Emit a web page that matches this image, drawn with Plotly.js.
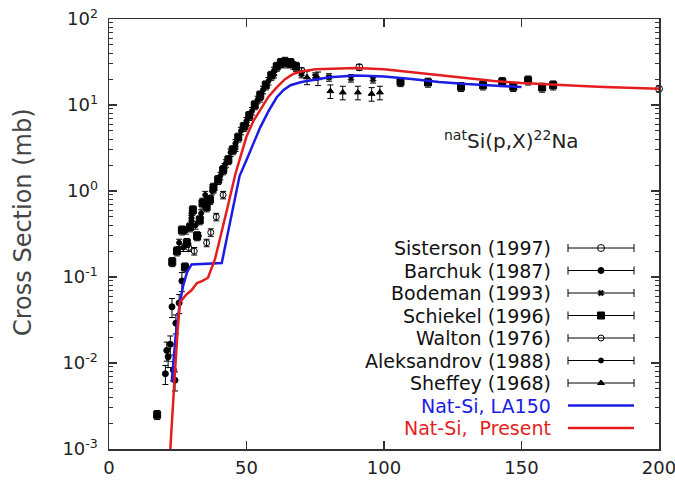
<!DOCTYPE html>
<html><head><meta charset="utf-8">
<script src="https://cdn.plot.ly/plotly-3.0.1.min.js"></script>
<style>html,body{margin:0;padding:0;background:#fff;}#chart{width:675px;height:482px;}</style>
</head><body><div id="chart"></div>
<script>
// ---------- data (energy MeV, cross section mb) ----------
const sistersonE = [61, 70, 91, 200];
const sistersonY = [28, 25, 27.5, 15.4];

const barchukE = [20.5, 21, 21.5, 22.3, 22.9, 23.4, 24, 24.3, 25.5, 26.5];
const barchukY = [0.0075, 0.014, 0.0118, 0.0165, 0.045, 0.0083, 0.0063, 0.029, 0.05, 0.09];

const bodemanE = [30, 34, 38, 42, 46, 50, 55, 60, 65, 70, 75, 80, 88, 96];
const bodemanY = [0.5, 0.75, 1.05, 1.9, 3.2, 6.0, 12, 23, 30, 23, 21.5, 21, 20.5, 20];

const schiekelE = [17.5, 23, 24.7, 26.5, 27.6, 28.3, 29.5, 30.5, 32, 33, 34, 35.5, 36.7, 38, 39.7, 41.5, 43.4, 45, 47, 49, 51, 53, 55, 57, 59, 61, 62.5, 64, 66, 68, 106, 116, 128, 136, 143, 147, 152.4, 157.5, 161.5];
const schiekelY = [0.0025, 0.15, 0.2, 0.35, 0.13, 0.25, 0.38, 0.6, 0.3, 0.46, 0.72, 0.65, 0.79, 1.1, 1.35, 1.75, 2.3, 3.0, 4.2, 5.6, 7.5, 10, 13, 17, 22, 28, 31, 32, 31, 28, 18.6, 18.3, 16.3, 17, 18.6, 16.3, 19.4, 16, 17];

const waltonE = [29, 31, 32.5, 35.5, 37, 39, 41.5];
const waltonY = [0.22, 0.2, 0.3, 0.25, 0.33, 0.5, 0.9];

const aleksandrovE = [25.5, 27, 28, 30, 31.5, 33.5, 35, 37.5, 40.5, 42.5, 44.2, 46, 48, 50, 52, 54, 56, 58, 60, 63, 67];
const aleksandrovY = [0.25, 0.22, 0.35, 0.45, 0.4, 0.55, 0.9, 1.0, 1.5, 2.1, 2.8, 3.6, 5.0, 6.5, 8.5, 11.5, 15, 19, 25, 30, 29];

const sheffeyE = [72, 76, 80.5, 85, 90.5, 95.5, 98.5];
const sheffeyY = [21, 20.5, 14.5, 14, 14, 13.5, 14];

const la150E = [22.8, 23.5, 24.2, 25, 25.8, 27, 28.4, 30, 35, 41, 43, 45, 47.5, 50, 52.5, 55, 58, 61, 63.5, 66, 70, 74, 80, 90, 100, 110, 120, 130, 140, 150];
const la150Y = [0.006, 0.012, 0.02, 0.032, 0.051, 0.08, 0.114, 0.14, 0.142, 0.145, 0.3, 0.6, 1.5, 2.3, 3.6, 5.5, 8.5, 12.3, 15, 17, 18.5, 19.5, 21, 22, 21.5, 20, 18.5, 17.5, 16.8, 16.2];

const presentE = [22.3, 22.8, 23.3, 24, 25, 25.8, 28, 30, 32, 34, 36, 38.5, 40, 42, 44, 46, 48, 50, 52.5, 55, 58, 61, 64, 67, 70, 75, 80, 90, 100, 110, 120, 130, 140, 150, 160, 170, 180, 190, 200];
const presentY = [0.001, 0.002, 0.004, 0.008, 0.025, 0.051, 0.062, 0.07, 0.085, 0.09, 0.098, 0.16, 0.25, 0.45, 0.85, 1.6, 2.7, 4.3, 6.5, 8.7, 12.5, 16, 20, 23, 24.5, 26, 26.5, 27, 26, 24, 22, 20.5, 19, 18, 17.2, 16.7, 16.2, 15.8, 15.4];

const xTickVals = [0, 50, 100, 150, 200];
const yTickVals = [0.001, 0.01, 0.1, 1, 10, 100];
const yTickText = ['10<sup>-3</sup>', '10<sup>-2</sup>', '10<sup>-1</sup>', '10<sup>0</sup>', '10<sup>1</sup>', '10<sup>2</sup>'];

const legendNames = ['Sisterson (1997)', 'Barchuk (1987)', 'Bodeman (1993)', 'Schiekel (1996)', 'Walton (1976)', 'Aleksandrov (1988)', 'Sheffey (1968)', 'Nat-Si, LA150', 'Nat-Si,\u00a0 Present'];

// ---------- styles ----------
const FONT = 'DejaVu Sans, Arial, sans-serif';
const BLUE = '#1c1ce6';
const RED = '#e41e1e';
const AX = '#333333';
const L = 109, R = 16, T = 19, B = 33, W = 675, H = 482;

const yMinor = [];
for (let d = -3; d < 2; d++) for (let k = 2; k < 10; k++) yMinor.push(k * Math.pow(10, d));

const symbols = ['circle-open', 'circle', 'x', 'square', 'circle-open', 'circle', 'triangle-up'];
const sizes = [7, 6, 5, 7, 6, 5, 6];
const errPct = [8, 25, 10, 12, 10, 10, 18];
const sets = [
  [sistersonE, sistersonY], [barchukE, barchukY], [bodemanE, bodemanY], [schiekelE, schiekelY],
  [waltonE, waltonY], [aleksandrovE, aleksandrovY], [sheffeyE, sheffeyY]
];

const traces = [];
sets.forEach((s, i) => {
  traces.push({
    x: s[0], y: s[1], type: 'scatter', mode: 'markers', showlegend: false, cliponaxis: false,
    marker: {symbol: symbols[i], size: sizes[i], color: '#000', line: {color: '#000', width: 1}},
    error_y: {type: 'percent', value: errPct[i], color: '#000', thickness: 1, width: 3}
  });
});
traces.push({x: la150E, y: la150Y, type: 'scatter', mode: 'lines', showlegend: false,
  line: {color: BLUE, width: 2.5}});
traces.push({x: presentE, y: presentY, type: 'scatter', mode: 'lines', showlegend: false,
  line: {color: RED, width: 2.5}});

// ---------- custom legend (pixel-based overlay axes) ----------
const LEG_TEXT_X = 553, LEG_X0 = 568, LEG_X1 = 634, LEG_Y0 = 248, LEG_DY = 22.5;
const legMid = (LEG_X0 + LEG_X1) / 2;
const annotations = [];
legendNames.forEach((name, i) => {
  const yy = LEG_Y0 + i * LEG_DY;
  let col = '#111';
  if (i === 7) col = BLUE;
  if (i === 8) col = RED;
  annotations.push({xref: 'x2', yref: 'y2', x: LEG_TEXT_X, y: yy, xanchor: 'right', yanchor: 'middle',
    text: name, showarrow: false, font: {family: FONT, size: 19, color: col}});
  if (i < 7) {
    traces.push({x: [legMid], y: [yy], xaxis: 'x2', yaxis: 'y2', type: 'scatter', mode: 'markers',
      showlegend: false, cliponaxis: false,
      marker: {symbol: symbols[i], size: sizes[i], color: '#000', line: {color: '#000', width: 1}},
      error_x: {type: 'constant', value: (LEG_X1 - LEG_X0) / 2, color: '#000', thickness: 1, width: 4}});
  } else {
    traces.push({x: [LEG_X0, LEG_X1], y: [yy, yy], xaxis: 'x2', yaxis: 'y2', type: 'scatter', mode: 'lines',
      showlegend: false, cliponaxis: false, line: {color: i === 7 ? BLUE : RED, width: 2.5}});
  }
});

annotations.push({xref: 'paper', yref: 'paper', x: (511 - L) / (W - L - R), y: (H - B - 140) / (H - T - B),
  xanchor: 'center', yanchor: 'middle', showarrow: false,
  text: '<sup>nat</sup>Si(p,X)<sup>22</sup>Na', font: {family: FONT, size: 20, color: '#222'}});
annotations.push({xref: 'paper', yref: 'paper', x: (23 - L) / (W - L - R), y: (H - B - 222) / (H - T - B),
  xanchor: 'center', yanchor: 'middle', showarrow: false, textangle: -90,
  text: 'Cross Section (mb)', font: {family: FONT, size: 24, color: '#444'}});

const layout = {
  width: W, height: H, margin: {l: L, r: R, t: T, b: B},
  paper_bgcolor: '#fff', plot_bgcolor: '#fff', showlegend: false,
  font: {family: FONT, size: 18, color: '#222'},
  xaxis: {range: [0, 200], tickmode: 'array', tickvals: xTickVals, ticks: 'inside', ticklen: 8,
    tickwidth: 1.2, tickcolor: AX, showline: true, linecolor: AX, linewidth: 1.5, mirror: 'ticks',
    showgrid: false, zeroline: false, ticklabelstandoff: 2, ticklabeloverflow: 'allow',
    tickfont: {family: FONT, size: 18, color: '#222'}},
  yaxis: {type: 'log', range: [-3, 2], tickmode: 'array', tickvals: yTickVals, ticktext: yTickText,
    ticks: 'inside', ticklen: 8, tickwidth: 1.2, tickcolor: AX, showline: true, linecolor: AX, linewidth: 1.5,
    mirror: 'ticks', showgrid: false, zeroline: false, ticklabelstandoff: 6, ticklabeloverflow: 'allow',
    tickfont: {family: FONT, size: 18, color: '#222'},
    minor: {tickmode: 'array', tickvals: yMinor, ticks: 'inside', ticklen: 4, tickwidth: 1, tickcolor: AX, showgrid: false}},
  xaxis2: {overlaying: 'x', anchor: 'y2', range: [L, W - R], visible: false, fixedrange: true},
  yaxis2: {overlaying: 'y', anchor: 'x2', range: [H - B, T], visible: false, fixedrange: true},
  annotations: annotations
};

Plotly.newPlot('chart', traces, layout, {staticPlot: true, displayModeBar: false});
</script></body></html>
